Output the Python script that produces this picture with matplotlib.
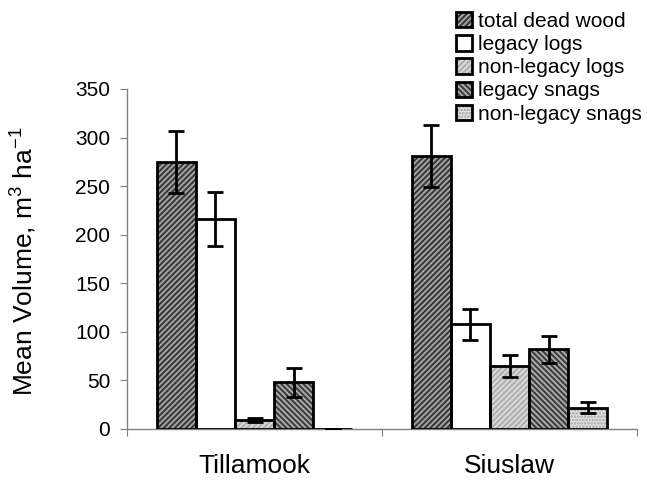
import matplotlib.pyplot as plt
import numpy as np

plt.rcParams['font.family'] = ['Liberation Sans', 'DejaVu Sans']
plt.rcParams['mathtext.fontset'] = 'custom'
plt.rcParams['mathtext.rm'] = 'Liberation Sans'
plt.rcParams['mathtext.it'] = 'Liberation Sans:italic'
plt.rcParams['hatch.linewidth'] = 1.3

sites = ['Tillamook', 'Siuslaw']
series = ['total dead wood', 'legacy logs', 'non-legacy logs',
          'legacy snags', 'non-legacy snags']

# mean volume (m3/ha) and error per site
total_dead_wood = [275, 281]
total_dead_wood_err = [32, 32]
legacy_logs = [216, 108]
legacy_logs_err = [28, 16]
non_legacy_logs = [9, 65]
non_legacy_logs_err = [2, 11]
legacy_snags = [48, 82]
legacy_snags_err = [15, 14]
non_legacy_snags = [0.5, 22]
non_legacy_snags_err = [0, 5.5]

means = [total_dead_wood, legacy_logs, non_legacy_logs, legacy_snags, non_legacy_snags]
errs = [total_dead_wood_err, legacy_logs_err, non_legacy_logs_err,
        legacy_snags_err, non_legacy_snags_err]

faces = ['#3a3a3a', 'white', '#b0b0b0', '#3e3e3e', '#e4e4e4']
hatch_cols = ['#a8a8a8', 'white', '#dcdcdc', '#b0b0b0', '#a0a0a0']
hatches = ['//////', None, '//////', '\\\\\\\\\\\\', '.....']

fig = plt.figure(figsize=(6.47, 4.82), dpi=100)
ax = fig.add_axes([127/647, 1 - 429/482, 510/647, 340/482])

x = np.arange(len(sites))
w = 0.153
handles = []
for j, (m, e) in enumerate(zip(means, errs)):
    pos = x + (j - 2) * w
    fill = ax.bar(pos, m, w, color=faces[j], edgecolor=hatch_cols[j],
                  hatch=hatches[j], linewidth=0, zorder=2)
    edge = ax.bar(pos, m, w, facecolor='none', edgecolor='black',
                  linewidth=2, zorder=3)
    ax.errorbar(pos, m, yerr=e, fmt='none', ecolor='black', elinewidth=2,
                capsize=6, capthick=2, zorder=4)
    handles.append((fill, edge))

ax.set_xlim(-0.5, 1.5)
ax.set_ylim(0, 350)
ax.set_yticks(np.arange(0, 351, 50))
ax.tick_params(axis='y', labelsize=15, length=5, pad=7, color='#808080')
ax.set_xticks([-0.5, 0.5, 1.5])
ax.set_xticklabels([])
ax.tick_params(axis='x', which='major', length=5, color='#808080')
ax.set_xticks(x, minor=True)
ax.set_xticklabels(sites, minor=True, fontsize=19)
ax.tick_params(axis='x', which='minor', length=0, pad=18)
for s in ['top', 'right']:
    ax.spines[s].set_visible(False)
for s in ['left', 'bottom']:
    ax.spines[s].set_color('#808080')
    ax.spines[s].set_linewidth(1)

fig.text(24/647, 1 - 261/482, r'Mean Volume, m$^3$ ha$^{-1}$', rotation=90,
         ha='center', va='center', fontsize=19)

fig.legend(handles, series, loc='upper left', bbox_to_anchor=(456/647, 1 - 12/482),
           frameon=False, fontsize=15, handlelength=0.75, handleheight=0.75,
           handletextpad=0.3, labelspacing=0.2, borderpad=0, borderaxespad=0)

fig.savefig('out.png', dpi=100)
